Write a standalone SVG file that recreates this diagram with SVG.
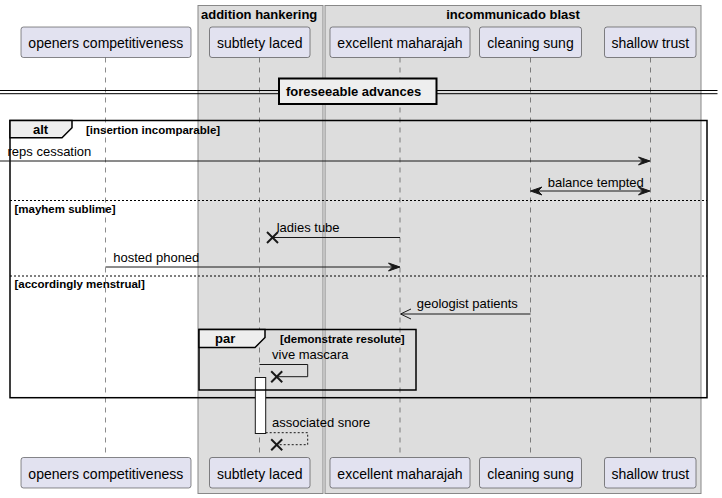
<svg xmlns="http://www.w3.org/2000/svg" width="722" height="498" viewBox="0 0 722 498">
<defs>
<style>
.box{fill:#DDDDDD;stroke:#888888;stroke-width:1}
.part{fill:#E2E2F0;stroke:#181818;stroke-width:0.5}
.ptxt{font-family:"Liberation Sans",Arial,sans-serif;font-size:14px;fill:#000;text-anchor:middle}
.life{stroke:#181818;stroke-width:0.5;stroke-dasharray:5,5;fill:none}
.msg{stroke:#181818;stroke-width:1;fill:none}
.dmsg{stroke:#181818;stroke-width:1;fill:none;stroke-dasharray:2,2}
.head{fill:#181818;stroke:#181818;stroke-width:1}
.mtxt{font-family:"Liberation Sans",Arial,sans-serif;font-size:13px;fill:#000}
.btxt{font-family:"Liberation Sans",Arial,sans-serif;font-size:13px;font-weight:bold;fill:#000}
.gtxt{font-family:"Liberation Sans",Arial,sans-serif;font-size:11.5px;font-weight:bold;fill:#000}
.frame{fill:none;stroke:#000;stroke-width:1.5}
.tab{fill:#EEEEEE;stroke:#000;stroke-width:1.5}
.sep{stroke:#000;stroke-width:1;stroke-dasharray:2,2}
.x{stroke:#181818;stroke-width:2}
</style>
</defs>
<rect width="722" height="498" fill="#FFFFFF"/>
<g id="box-addition-hankering">
<rect class="box" x="198" y="5.5" width="125" height="488"/>
<text class="btxt" x="201" y="18.5">addition hankering</text>
</g>
<g id="box-incommunicado-blast">
<rect class="box" x="325" y="5.5" width="376" height="488"/>
<text class="btxt" x="513" y="18.5" text-anchor="middle">incommunicado blast</text>
</g>
<g id="lifelines">
<line class="life" x1="105.5" y1="57.5" x2="105.5" y2="457"/>
<line class="life" x1="259.5" y1="57.5" x2="259.5" y2="457"/>
<line class="life" x1="400" y1="57.5" x2="400" y2="457"/>
<line class="life" x1="530.5" y1="57.5" x2="530.5" y2="457"/>
<line class="life" x1="650.5" y1="57.5" x2="650.5" y2="457"/>
</g>
<g id="p-openers-competitiveness">
<rect class="part" x="21" y="27" width="170" height="30.5" rx="2.5"/>
<text class="ptxt" x="105.8" y="48">openers competitiveness</text>
<rect class="part" x="21" y="457.5" width="170" height="30.5" rx="2.5"/>
<text class="ptxt" x="105.8" y="478.5">openers competitiveness</text>
</g>
<g id="p-subtlety-laced">
<rect class="part" x="209.5" y="27" width="100.5" height="30.5" rx="2.5"/>
<text class="ptxt" x="259.7" y="48">subtlety laced</text>
<rect class="part" x="209.5" y="457.5" width="100.5" height="30.5" rx="2.5"/>
<text class="ptxt" x="259.7" y="478.5">subtlety laced</text>
</g>
<g id="p-excellent-maharajah">
<rect class="part" x="330" y="27" width="140" height="30.5" rx="2.5"/>
<text class="ptxt" x="400" y="48">excellent maharajah</text>
<rect class="part" x="330" y="457.5" width="140" height="30.5" rx="2.5"/>
<text class="ptxt" x="400" y="478.5">excellent maharajah</text>
</g>
<g id="p-cleaning-sung">
<rect class="part" x="479.5" y="27" width="102" height="30.5" rx="2.5"/>
<text class="ptxt" x="530.5" y="48">cleaning sung</text>
<rect class="part" x="479.5" y="457.5" width="102" height="30.5" rx="2.5"/>
<text class="ptxt" x="530.5" y="478.5">cleaning sung</text>
</g>
<g id="p-shallow-trust">
<rect class="part" x="604.5" y="27" width="91.5" height="30.5" rx="2.5"/>
<text class="ptxt" x="650.3" y="48">shallow trust</text>
<rect class="part" x="604.5" y="457.5" width="91.5" height="30.5" rx="2.5"/>
<text class="ptxt" x="650.3" y="478.5">shallow trust</text>
</g>
<g id="divider-foreseeable-advances">
<line x1="0" y1="90.5" x2="717.5" y2="90.5" stroke="#000" stroke-width="1"/>
<line x1="0" y1="93.7" x2="717.5" y2="93.7" stroke="#000" stroke-width="1"/>
<rect x="279" y="78.5" width="157.5" height="25.5" fill="#EEEEEE" stroke="#000" stroke-width="2"/>
<text class="btxt" x="286" y="95.7">foreseeable advances</text>
</g>
<g id="frame-alt">
<rect class="frame" x="10" y="120.5" width="697" height="277.2"/>
<path class="tab" d="M10,120.5 H72 V127.7 L62,137.7 H10 Z"/>
<text class="btxt" x="33" y="134">alt</text>
<text class="gtxt" x="86" y="133.5">[insertion incomparable]</text>
<line class="sep" x1="10" y1="200.5" x2="707" y2="200.5"/>
<text class="gtxt" x="14.5" y="212.5">[mayhem sublime]</text>
<line class="sep" x1="10" y1="276" x2="707" y2="276"/>
<text class="gtxt" x="14.5" y="287.5">[accordingly menstrual]</text>
</g>
<g id="activation-subtlety-laced">
<rect x="255.3" y="377.5" width="10.4" height="56" fill="#FFFFFF" stroke="#181818" stroke-width="1"/>
</g>
<g id="frame-par">
<rect class="frame" x="199" y="329.5" width="217" height="60.5"/>
<path class="tab" d="M199,329.5 H265 V337.5 L255,347.5 H199 Z"/>
<text class="btxt" x="215" y="343.3">par</text>
<text class="gtxt" x="280" y="343">[demonstrate resolute]</text>
</g>
<g id="connectors">
<line class="msg" x1="0" y1="161" x2="649" y2="161"/>
<polygon class="head" points="638.5,157 650,161 638.5,165 642.5,161"/>
<text class="mtxt" x="7.5" y="156">reps cessation</text>

<line class="msg" x1="532" y1="191" x2="649" y2="191"/>
<polygon class="head" points="638.5,187 650,191 638.5,195 642.5,191"/>
<polygon class="head" points="542,187 530.5,191 542,195 538,191"/>
<text class="mtxt" x="547.7" y="186.5">balance tempted</text>

<line class="msg" x1="400" y1="237.5" x2="272.5" y2="237.5"/>
<line class="x" x1="267" y1="232" x2="278" y2="243"/>
<line class="x" x1="267" y1="243" x2="278" y2="232"/>
<text class="mtxt" x="276.7" y="232">ladies tube</text>

<line class="msg" x1="105.5" y1="267" x2="399" y2="267"/>
<polygon class="head" points="388.5,263 400,267 388.5,271 392.5,267"/>
<text class="mtxt" x="113.3" y="262">hosted phoned</text>

<line class="msg" x1="530.5" y1="314" x2="401" y2="314"/>
<polyline class="msg" points="411,309 400.5,314 411,319"/>
<text class="mtxt" x="416.7" y="308.3">geologist patients</text>

<polyline class="msg" points="259.5,364.5 307.7,364.5 307.7,376.7 276.7,376.7"/>
<line class="x" x1="271.2" y1="371.2" x2="282.2" y2="382.2"/>
<line class="x" x1="271.2" y1="382.2" x2="282.2" y2="371.2"/>
<text class="mtxt" x="272" y="359.3">vive mascara</text>

<polyline class="dmsg" points="265.7,432.7 307.7,432.7 307.7,444.7 276.7,444.7"/>
<line class="x" x1="271.2" y1="439.2" x2="282.2" y2="450.2"/>
<line class="x" x1="271.2" y1="450.2" x2="282.2" y2="439.2"/>
<text class="mtxt" x="272" y="426.7">associated snore</text>
</g>
</svg>
